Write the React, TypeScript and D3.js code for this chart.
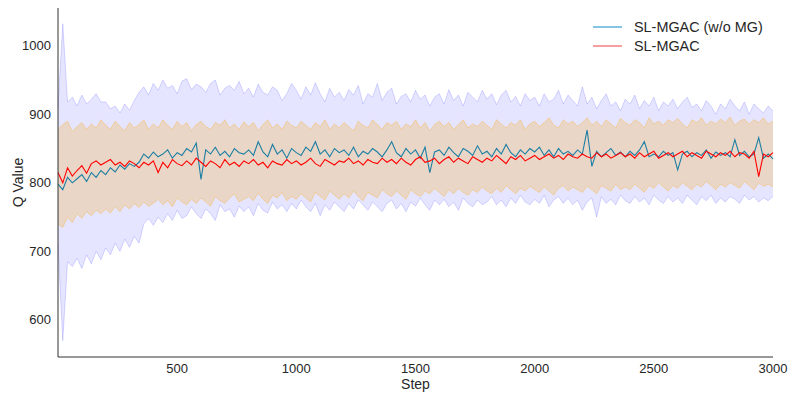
import React from 'react';
import * as d3 from 'd3';

const STEP = 20;

const blueUpper = [
  910, 1032, 918, 925, 912, 928, 915, 922, 930, 918,
  918, 908, 912, 902, 915, 906, 920, 932, 940, 928,
  945, 935, 950, 938, 942, 930, 948, 952, 936, 944,
  940, 932, 945, 950, 928, 938, 942, 935, 948, 930,
  938, 925, 944, 932, 928, 940, 935, 920, 930, 945,
  935, 922, 940, 928, 946, 930, 918, 938, 925, 932,
  920, 936, 928, 942, 915, 930, 925, 945, 920, 932,
  938, 915, 926, 930, 918, 935, 922, 928, 912, 925,
  930, 915, 936, 920, 928, 912, 932, 925, 918, 935,
  922, 930, 914, 928, 935, 918, 926, 912, 930, 920,
  925, 912, 930, 918, 922, 935, 915, 928, 920, 912,
  940, 915, 925, 908, 920, 930, 912, 918, 905, 922,
  915, 928, 908, 920, 912, 925, 905, 918, 912, 922,
  908, 918, 925, 910, 915, 905, 920, 912, 900, 915,
  908, 922, 912, 905, 918, 900, 915, 908, 902, 912, 905,
];

const blueLower = [
  710, 570, 685, 678, 690, 675, 695, 682, 700, 688,
  705, 695, 712, 700, 718, 706, 722, 712, 740, 748,
  738, 750, 742, 755, 745, 760, 748, 752, 765, 755,
  748, 762, 755, 745, 768, 758, 762, 750, 766, 758,
  765, 752, 770, 760, 756, 772, 762, 768, 758, 770,
  762, 775, 765, 758, 770, 752, 768, 760, 772, 765,
  758, 770, 762, 775, 768, 760, 772, 765, 758, 770,
  775, 762, 770, 758, 772, 766, 778, 768, 760, 775,
  768, 776, 765, 772, 760, 778, 770, 765, 775, 768,
  772, 780, 768, 775, 765, 778, 770, 782, 772, 768,
  776, 770, 782, 765, 775, 780, 770, 778, 768, 775,
  760, 772, 778, 750, 780, 770, 776, 768, 782, 774,
  770, 780, 772, 778, 768, 782, 775, 770, 780, 772,
  778, 770, 782, 775, 768, 780, 774, 782, 770, 778,
  772, 780, 776, 770, 782, 775, 780, 772, 778, 774, 780,
];

const orangeUpper = [
  878, 885, 890, 875, 882, 888, 878, 886, 880, 892,
  884, 878, 890, 882, 876, 888, 880, 885, 892, 878,
  886, 880, 892, 884, 878, 890, 882, 888, 876, 885,
  890, 882, 878, 888, 884, 892, 880, 886, 878, 889,
  882, 888, 876, 885, 892, 880, 886, 878, 890, 884,
  880, 890, 884, 878, 888, 882, 892, 878, 886, 880,
  888, 882, 876, 890, 884, 880, 892, 885, 878, 888,
  884, 890, 878, 886, 882, 892, 880, 888, 876, 885,
  890, 882, 888, 878, 885, 892, 880, 886, 882, 890,
  884, 878, 892, 886, 880, 888, 884, 892, 878, 886,
  890, 882, 888, 895, 884, 880, 892, 886, 890, 882,
  888, 895, 884, 890, 882, 892, 886, 880, 894, 888,
  884, 892, 888, 880, 895, 886, 890, 884, 892, 888,
  894, 886, 880, 892, 888, 895, 884, 890, 886, 893,
  888, 896, 884, 890, 893, 886, 892, 888, 895, 886, 890,
];

const orangeLower = [
  740, 735, 750, 742, 755, 748, 758, 752, 760, 755,
  762, 756, 765, 758, 768, 762, 770, 764, 772, 766,
  770, 776, 768, 774, 765, 778, 772, 768, 776, 770,
  778, 772, 766, 780, 774, 770, 778, 784, 772, 776,
  780, 774, 785, 776, 770, 782, 778, 786, 774, 780,
  776, 784, 778, 772, 786, 780, 775, 788, 782, 776,
  784, 778, 788, 780, 774, 786, 782, 778, 790, 784,
  780, 788, 782, 776, 790, 784, 780, 788, 784, 792,
  786, 780, 790, 784, 792, 786, 782, 790, 786, 794,
  788, 784, 792, 786, 796, 790, 784, 792, 788, 795,
  790, 786, 794, 788, 782, 792, 796, 788, 794, 790,
  786, 795, 790, 784, 796, 792, 788, 798, 790, 794,
  790, 798, 792, 786, 796, 792, 800, 794, 788, 796,
  792, 800, 795, 790, 798, 794, 802, 796, 790, 798,
  794, 800, 796, 792, 802, 796, 790, 800, 795, 798, 794,
];

// SL-MGAC (w/o MG)
const blueMean = [
  798, 790, 808, 800, 806, 812, 802, 815, 808, 818,
  812, 822, 816, 826, 820, 828, 824, 830, 842, 836,
  845, 838, 842, 848, 836, 844, 840, 850, 845, 858,
  805, 848, 842, 852, 840, 846, 838, 850, 844, 842,
  848, 840, 860, 845, 838, 856, 842, 848, 836, 850,
  844, 840, 852, 846, 860, 842, 848, 838, 850, 844,
  848, 840, 852, 838, 846, 842, 850, 845, 838, 848,
  860, 844, 838, 850, 842, 848, 836, 852, 815, 845,
  848, 840, 852, 844, 838, 850, 846, 840, 854, 842,
  846, 838, 850, 842, 856, 844, 838, 848, 842, 850,
  845, 852, 840, 848, 838, 850, 842, 846, 840, 848,
  842, 877, 824, 846, 838, 844, 850, 840, 845, 838,
  846, 840, 848, 860, 838, 842, 838, 846, 840, 844,
  819, 842, 846, 838, 844, 840, 848, 836, 845, 840,
  844, 838, 863, 840, 846, 838, 842, 866, 836, 842, 835,
];

// SL-MGAC
const redMean = [
  815, 800, 822, 810, 818, 825, 814, 828, 832, 826,
  830, 834, 826, 830, 824, 832, 828, 822, 830, 826,
  832, 815, 830, 822, 834, 828, 825, 832, 826, 836,
  830, 824, 832, 828, 822, 834, 826, 830, 824, 832,
  828, 834, 826, 830, 822, 832, 828, 826, 834, 828,
  832, 826, 830, 836, 828, 824, 834, 830, 826, 832,
  830, 836, 828, 832, 826, 834, 830, 828, 836, 830,
  834, 828, 836, 830, 826, 834, 838, 830, 832, 836,
  828, 834, 838, 830, 836, 832, 828, 838, 834, 830,
  836, 832, 840, 834, 828, 838, 834, 840, 832, 836,
  840, 834, 838, 842, 836, 840, 834, 842, 838, 836,
  842, 838, 836, 844, 838, 842, 836, 840, 844, 838,
  842, 836, 844, 838, 842, 846, 836, 840, 844, 838,
  842, 846, 838, 844, 840, 836, 846, 842, 838, 844,
  840, 846, 838, 844, 842, 836, 846, 809, 842, 838, 844,
];

const xTicks = [500, 1000, 1500, 2000, 2500, 3000];
const yTicks = [600, 700, 800, 900, 1000];

const W = 797;
const H = 399;
const left = 58, right = 773, top = 8, bottom = 357;

export default function App() {
  const x = d3.scaleLinear().domain([0, 3000]).range([left, right]);
  const y = d3.scaleLinear().domain([546, 1055]).range([bottom, top]);

  const area = (hi: number[], lo: number[]) =>
    d3.area<number>()
      .x((_, i) => x(i * STEP))
      .y0((_, i) => y(lo[i]))
      .y1((_, i) => y(hi[i]))(hi) || '';

  const line = (vals: number[]) =>
    d3.line<number>().x((_, i) => x(i * STEP)).y(d => y(d))(vals) || '';

  const font = '"Liberation Sans", Arial, sans-serif';

  return (
    <svg width={W} height={H} style={{ position: 'absolute', left: 0, top: 0 }} fontFamily={font}>
      <rect width={W} height={H} fill="#fff" />

      {/* bands */}
      <path d={area(blueUpper, blueLower)} fill="#0000ff" fillOpacity={0.1} />
      <path d={line(blueUpper)} fill="none" stroke="#0000ff" strokeOpacity={0.15} strokeWidth={1} />
      <path d={line(blueLower)} fill="none" stroke="#0000ff" strokeOpacity={0.15} strokeWidth={1} />
      <path d={area(orangeUpper, orangeLower)} fill="#ffa500" fillOpacity={0.22} />
      <path d={line(orangeUpper)} fill="none" stroke="#ffa500" strokeOpacity={0.3} strokeWidth={1} />
      <path d={line(orangeLower)} fill="none" stroke="#ffa500" strokeOpacity={0.3} strokeWidth={1} />

      {/* mean lines */}
      <path d={line(blueMean)} fill="none" stroke="#1c7fa3" strokeWidth={1.1} />
      <path d={line(redMean)} fill="none" stroke="#ff0000" strokeWidth={1.1} />

      {/* spines */}
      <line x1={left} x2={left} y1={top} y2={bottom} stroke="#333" strokeWidth={1} />
      <line x1={left} x2={right} y1={bottom} y2={bottom} stroke="#333" strokeWidth={1} />

      {xTicks.map(t => (
        <text key={t} x={x(t)} y={373} textAnchor="middle" fontSize={13} fill="#262626">{t}</text>
      ))}
      {yTicks.map(t => (
        <text key={t} x={51} y={y(t) + 4.5} textAnchor="end" fontSize={13} fill="#262626">{t}</text>
      ))}

      <text x={(left + right) / 2} y={389} textAnchor="middle" fontSize={14} fill="#262626">Step</text>
      <text transform={`translate(23,${(top + bottom) / 2}) rotate(-90)`} textAnchor="middle" fontSize={14} fill="#262626">Q Value</text>

      {/* legend */}
      <line x1={593} x2={622} y1={27} y2={27} stroke="#45a5d5" strokeWidth={1.3} />
      <text x={634} y={32} fontSize={14.4} fill="#262626">SL-MGAC (w/o MG)</text>
      <line x1={593} x2={622} y1={46} y2={46} stroke="#f46a6a" strokeWidth={1.3} />
      <text x={634} y={51} fontSize={14.4} fill="#262626">SL-MGAC</text>
    </svg>
  );
}
